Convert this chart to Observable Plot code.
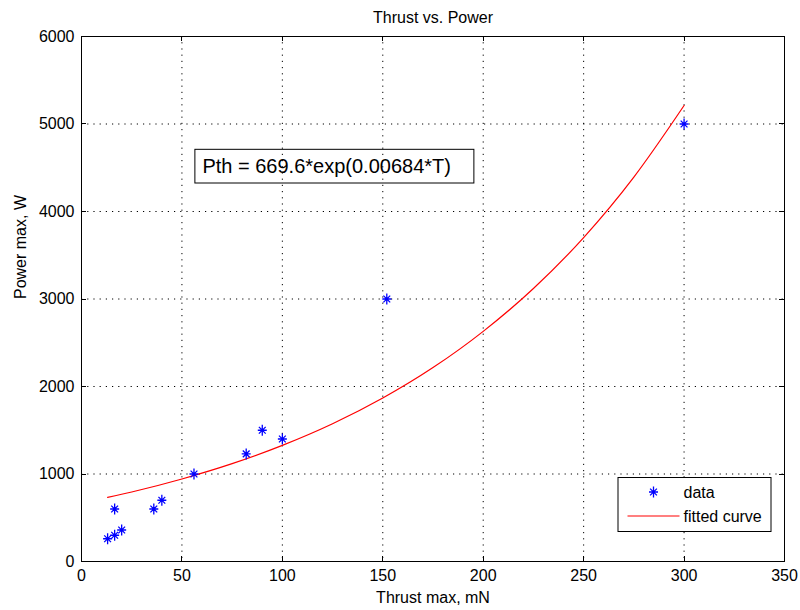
<!DOCTYPE html>
<html><head><meta charset="utf-8">
<script src="https://cdn.jsdelivr.net/npm/d3@7"></script>
<script src="https://cdn.jsdelivr.net/npm/@observablehq/plot@0.6"></script>
<style>body{margin:0;background:#fff;font-family:"Liberation Sans",Arial,sans-serif}</style>
</head><body><div id="chart"></div>
<script>
// Measured data (Thrust max [mN], Power max [W])
const thrust = [13, 16.5, 20, 16.5, 36, 40, 56, 82, 90, 100, 152, 300];
const power  = [260, 300, 360, 600, 600, 700, 1000, 1230, 1500, 1400, 3000, 5000];
// Fitted curve, points
const fitThrust = [13, 25, 50, 75, 100, 125, 150, 175, 200, 225, 250, 275, 300];
const fitPower  = [732, 794, 943, 1118, 1327, 1574, 1868, 2216, 2630, 3120, 3702, 4393, 5211];
// Axis ticks
const xTicks = [0, 50, 100, 150, 200, 250, 300, 350];
const yTicks = [0, 1000, 2000, 3000, 4000, 5000, 6000];
// Texts
const titleText = "Thrust vs. Power";
const xLabel = "Thrust max, mN";
const yLabel = "Power max, W";
const equation = "Pth = 669.6*exp(0.00684*T)";
const legendLabels = ["data", "fitted curve"];

const points = thrust.map((t, i) => ({t, p: power[i]}));
const fit = fitThrust.map((t, i) => ({t, p: fitPower[i]}));

const BLUE = "#0000ff", RED = "#ff0000";
const FONT = "Liberation Sans, Arial, sans-serif";
const FS = 16;

// MATLAB-like '*' marker
const star = {
  draw(ctx) {
    ctx.moveTo(0, -5.5); ctx.lineTo(0, 5.5);
    ctx.moveTo(-4.5, 0); ctx.lineTo(4.5, 0);
    ctx.moveTo(-3.4, -3.4); ctx.lineTo(3.4, 3.4);
    ctx.moveTo(-3.4, 3.4); ctx.lineTo(3.4, -3.4);
  }
};

function inwardTicks(index, scales, values, dim) {
  const {marginLeft: l, marginTop: t, width, height, marginRight: r, marginBottom: b} = dim;
  const R = width - r, B = height - b, L = 5;
  const g = d3.create("svg:g").attr("stroke", "#000").attr("stroke-width", 1);
  for (const v of xTicks) {
    const x = Math.round(scales.x(v)) + 0.5;
    g.append("line").attr("x1", x).attr("x2", x).attr("y1", B).attr("y2", B - L);
    g.append("line").attr("x1", x).attr("x2", x).attr("y1", t).attr("y2", t + L);
  }
  for (const v of yTicks) {
    const y = Math.round(scales.y(v)) + 0.5;
    g.append("line").attr("y1", y).attr("y2", y).attr("x1", l).attr("x2", l + L);
    g.append("line").attr("y1", y).attr("y2", y).attr("x1", R).attr("x2", R - L);
  }
  return g.node();
}

function legend(index, scales, values, dim) {
  const R = dim.width - dim.marginRight, B = dim.height - dim.marginBottom;
  const w = 153, h = 54;
  const x0 = R - 13.5 - w, y0 = B - 30 - h;
  const g = d3.create("svg:g").attr("font-family", FONT).attr("font-size", FS).attr("text-anchor", "start");
  g.append("rect").attr("x", x0 + 0.5).attr("y", y0 + 0.5).attr("width", w).attr("height", h)
    .attr("fill", "#fff").attr("stroke", "#000");
  const p = d3.path(); star.draw(p);
  g.append("path").attr("d", p.toString()).attr("transform", `translate(${x0 + 36},${y0 + 15})`)
    .attr("stroke", BLUE).attr("stroke-width", 1.3).attr("fill", "none");
  g.append("line").attr("x1", x0 + 10).attr("x2", x0 + 62).attr("y1", y0 + 39).attr("y2", y0 + 39)
    .attr("stroke", RED).attr("stroke-width", 1.2);
  g.append("text").attr("x", x0 + 66).attr("y", y0 + 15).attr("dy", "0.35em").text(legendLabels[0]);
  g.append("text").attr("x", x0 + 66).attr("y", y0 + 39).attr("dy", "0.35em").text(legendLabels[1]);
  return g.node();
}

const chart = Plot.plot({
  width: 800,
  height: 610,
  marginLeft: 81,
  marginRight: 16,
  marginTop: 36,
  marginBottom: 49,
  style: {fontFamily: FONT, fontSize: FS + "px", background: "#fff", color: "#000"},
  x: {domain: [0, 350], ticks: xTicks, label: null},
  y: {domain: [0, 6000], ticks: yTicks, label: null},
  marks: [
    Plot.ruleX(xTicks.slice(1, -1), {stroke: "#000", strokeDasharray: "1.2,5", strokeWidth: 1}),
    Plot.ruleY(yTicks.slice(1, -1), {stroke: "#000", strokeDasharray: "1.2,5", strokeWidth: 1}),
    Plot.frame({stroke: "#000", strokeWidth: 1}),
    inwardTicks,
    Plot.axisX({ticks: xTicks, tickSize: 0, tickPadding: 8, fontSize: FS, label: null}),
    Plot.axisY({ticks: yTicks, tickSize: 0, tickPadding: 7, fontSize: FS, label: null, tickFormat: d => String(d)}),
    Plot.line(fit, {x: "t", y: "p", stroke: RED, strokeWidth: 1.2, curve: "monotone-x"}),
    Plot.dot(points, {x: "t", y: "p", symbol: star, stroke: BLUE, strokeWidth: 1.3, fill: "none"}),
    // equation annotation (data coordinates)
    Plot.rect([{x1: 56.7, x2: 195.6, y1: 4320, y2: 4705}], {x1: "x1", x2: "x2", y1: "y1", y2: "y2", fill: "none", stroke: "#000", strokeWidth: 1}),
    Plot.text([equation], {x: 60.2, y: 4512, text: d => d, textAnchor: "start", fontSize: 20, fill: "#000"}),
    legend,
    Plot.text([titleText], {frameAnchor: "top", dy: -19, text: d => d, fontSize: FS, lineAnchor: "middle"}),
    Plot.text([xLabel], {frameAnchor: "bottom", dy: 36, text: d => d, fontSize: FS, lineAnchor: "middle"}),
    Plot.text([yLabel], {frameAnchor: "left", dx: -61, rotate: -90, text: d => d, fontSize: FS, lineAnchor: "middle"})
  ]
});
document.getElementById("chart").appendChild(chart);
</script>
</body></html>
